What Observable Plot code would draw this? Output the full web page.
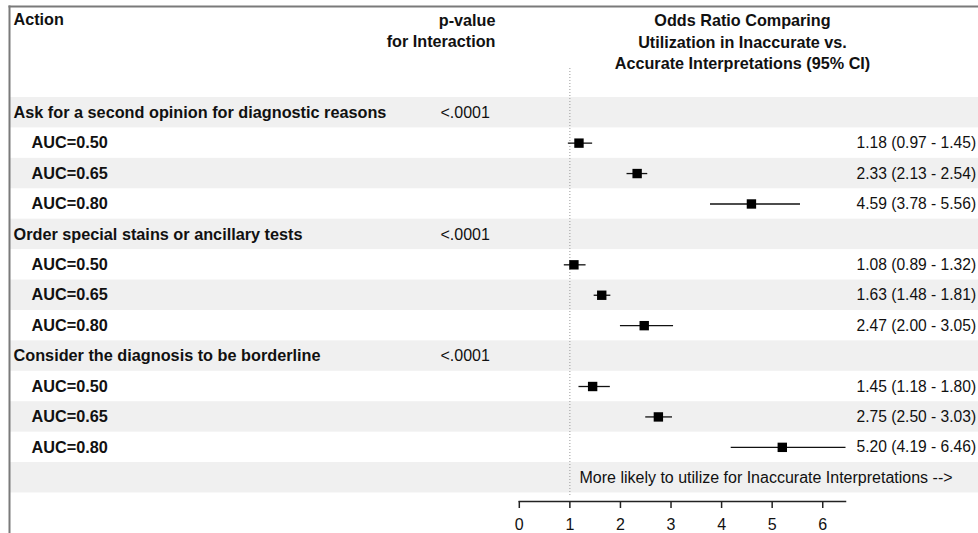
<!DOCTYPE html>
<html>
<head>
<meta charset="utf-8">
<script src="https://cdn.jsdelivr.net/npm/d3@7"></script>
<script src="https://cdn.jsdelivr.net/npm/@observablehq/plot@0.6"></script>
<style>
  html, body { margin: 0; padding: 0; background: #fff; }
</style>
</head>
<body>
<div id="chart"></div>
<script>
// ---- data ----
const groups = [
  "Ask for a second opinion for diagnostic reasons",
  "Order special stains or ancillary tests",
  "Consider the diagnosis to be borderline"
];
const pValues = ["<.0001", "<.0001", "<.0001"];
const aucLevels = ["AUC=0.50", "AUC=0.65", "AUC=0.80"];
const oddsRatio = [[1.18, 2.33, 4.59], [1.08, 1.63, 2.47], [1.45, 2.75, 5.20]];
const ciLower   = [[0.97, 2.13, 3.78], [0.89, 1.48, 2.00], [1.18, 2.50, 4.19]];
const ciUpper   = [[1.45, 2.54, 5.56], [1.32, 1.81, 3.05], [1.80, 3.03, 6.46]];
const xTicks = [0, 1, 2, 3, 4, 5, 6];
const headerAction = "Action";
const headerP = "p-value\nfor Interaction";
const headerOR = "Odds Ratio Comparing\nUtilization in Inaccurate vs.\nAccurate Interpretations (95% CI)";
const footnote = "More likely to utilize for Inaccurate Interpretations -->";
const nullValue = 1;

// ---- rows ----
const rows = [];
groups.forEach((g, gi) => {
  rows.push({type: "group", label: g, p: pValues[gi]});
  aucLevels.forEach((a, ai) => {
    const or = oddsRatio[gi][ai], lo = ciLower[gi][ai], hi = ciUpper[gi][ai];
    rows.push({type: "auc", label: a, or, lo, hi,
      ci: `${or.toFixed(2)} (${lo.toFixed(2)} - ${hi.toFixed(2)})`});
  });
});
rows.push({type: "foot", label: footnote});
rows.forEach((d, i) => d.i = i);
const stripes = rows.filter(d => d.i % 2 === 0);
const est = rows.filter(d => d.type === "auc");
const groupRows = rows.filter(d => d.type === "group");
const aucRows = rows.filter(d => d.type === "auc");
const footRows = rows.filter(d => d.type === "foot");

// ---- layout ----
const W = 978, H = 533;
const ML = 518.8, MR = 133, MT = 97, MB = 32;
const BORDER_X = 9, BORDER_Y = 6;
const font = "'Liberation Sans', Arial, Helvetica, sans-serif";

const chart = Plot.plot({
  width: W, height: H,
  marginLeft: ML, marginRight: MR, marginTop: MT, marginBottom: MB,
  style: {fontFamily: font, fontSize: "16px", color: "#111", background: "#fff", overflow: "hidden"},
  x: {domain: [0, 6.45], axis: null},
  y: {domain: [-0.5, 12.78], reverse: true, axis: null},
  marks: [
    Plot.rect(stripes, {y1: d => d.i - 0.5, y2: d => d.i + 0.5, fill: "#f0f0f0",
      insetLeft: -(ML - BORDER_X), insetRight: -MR}),
    Plot.frame({anchor: "top", stroke: "#7a7a7a", strokeWidth: 2,
      insetTop: -(MT - BORDER_Y), insetLeft: -(ML - BORDER_X), insetRight: -MR}),
    Plot.frame({anchor: "left", stroke: "#7a7a7a", strokeWidth: 2,
      insetTop: -(MT - BORDER_Y), insetLeft: -(ML - BORDER_X), insetBottom: -MB}),
    Plot.ruleX([nullValue], {stroke: "#999", strokeDasharray: "1,2", strokeWidth: 1,
      insetTop: -29, insetBottom: 4}),
    Plot.frame({anchor: "bottom", stroke: "#222", strokeWidth: 1.5}),
    Plot.axisX(xTicks, {tickSize: 7, tickPadding: 10, label: null, fontSize: 16,
      stroke: "#222", strokeWidth: 1.5}),
    // headers
    Plot.text([headerAction], {text: d => d, frameAnchor: "top-left", textAnchor: "start",
      lineAnchor: "middle", dx: 13 - ML, dy: 19 - MT, fontWeight: "bold", fontSize: 16.2}),
    Plot.text([headerP], {text: d => d, frameAnchor: "top-left", textAnchor: "end",
      lineAnchor: "middle", dx: 495 - ML, dy: 29.5 - MT, lineHeight: 1.31, fontWeight: "bold", fontSize: 16.2}),
    Plot.text([headerOR], {text: d => d, frameAnchor: "top-left", textAnchor: "middle",
      lineAnchor: "middle", dx: 742 - ML, dy: 40.5 - MT, lineHeight: 1.33, fontWeight: "bold", fontSize: 16.2}),
    // row labels
    Plot.text(groupRows, {y: "i", text: "label", frameAnchor: "left", textAnchor: "start",
      dx: 13 - ML, fontWeight: "bold", fontSize: 16.25}),
    Plot.text(groupRows, {y: "i", text: "p", frameAnchor: "left", textAnchor: "start",
      dx: 440 - ML}),
    Plot.text(aucRows, {y: "i", text: "label", frameAnchor: "left", textAnchor: "start",
      dx: 31 - ML, fontWeight: "bold", fontSize: 16.25}),
    Plot.text(footRows, {y: "i", text: "label", frameAnchor: "left", textAnchor: "start",
      dx: 579 - ML}),
    // estimates
    Plot.ruleY(est, {y: "i", x1: "lo", x2: "hi", stroke: "#111", strokeWidth: 1.3}),
    Plot.dot(est, {y: "i", x: "or", symbol: "square", r: 5.3, fill: "#000", stroke: "none"}),
    Plot.text(est, {y: "i", text: "ci", frameAnchor: "right", textAnchor: "start", dx: 11, fontSize: 15.6})
  ]
});
document.getElementById("chart").appendChild(chart);
</script>
</body>
</html>
